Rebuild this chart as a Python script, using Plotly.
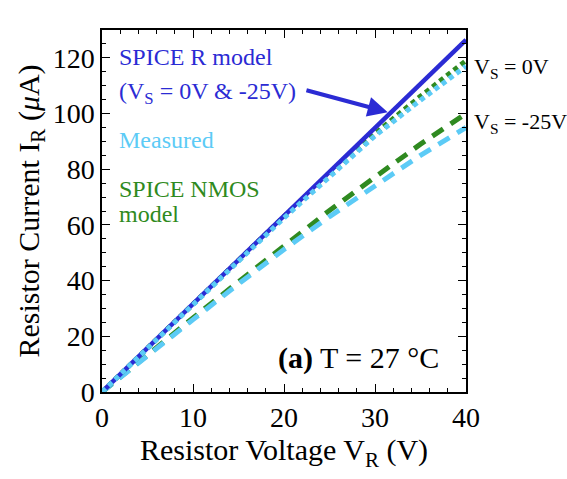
import plotly.graph_objects as go

# data
v_r_model = [0, 40]
i_r_model = [0, 126.5]

v_pts = [0, 5, 10, 15, 20, 25, 30, 35, 40]
i_meas_0 = [0, 15.8, 31.5, 47.0, 62.5, 77.5, 92.0, 104.8, 117.0]
i_nmos_0 = [0, 15.8, 31.6, 47.2, 63.0, 78.2, 92.8, 106.2, 119.0]
i_meas_25 = [0, 13.2, 26.0, 38.8, 51.2, 63.0, 74.2, 85.0, 95.0]
i_nmos_25 = [0, 13.4, 26.6, 39.6, 52.6, 65.2, 77.2, 89.0, 100.0]

x_ticks = [0, 10, 20, 30, 40]
y_ticks = [0, 20, 40, 60, 80, 100, 120]

BLUE = "#2b2bd4"
LBLUE = "#5ccbf6"
GREEN = "#2f8a20"
FONT = "Liberation Serif"

fig = go.Figure()
fig.add_trace(go.Scatter(x=v_pts, y=i_nmos_25, mode="lines",
                         line=dict(color=GREEN, width=5, dash="13px,9px")))
fig.add_trace(go.Scatter(x=v_pts, y=i_meas_25, mode="lines",
                         line=dict(color=LBLUE, width=5, dash="13px,9px")))
fig.add_trace(go.Scatter(x=v_pts, y=i_nmos_0, mode="lines",
                         line=dict(color=GREEN, width=5, dash="5px,4px")))
fig.add_trace(go.Scatter(x=v_r_model, y=i_r_model, mode="lines",
                         line=dict(color=BLUE, width=4.5)))
fig.add_trace(go.Scatter(x=v_pts, y=i_meas_0, mode="lines",
                         line=dict(color=LBLUE, width=5, dash="5px,4px")))

axis_common = dict(showline=True, linecolor="black", linewidth=1.5, mirror="allticks",
                   ticks="inside", ticklen=8, tickwidth=1.2, tickcolor="black",
                   showgrid=False, zeroline=False,
                   tickfont=dict(family=FONT, size=28, color="black"))

fig.update_layout(
    width=567, height=479,
    margin=dict(l=102, r=101, t=30, b=87),
    paper_bgcolor="white", plot_bgcolor="white",
    showlegend=False,
    font=dict(family=FONT, color="black"),
    xaxis=dict(range=[0, 40], tickvals=x_ticks,
               minor=dict(dtick=2, ticks="inside", ticklen=4, tickcolor="black", tickwidth=1),
               title=dict(text="Resistor Voltage V<sub>R</sub> (V)",
                          font=dict(family=FONT, size=30), standoff=6),
               **axis_common),
    yaxis=dict(range=[0, 130], tickvals=y_ticks,
               minor=dict(dtick=5, ticks="inside", ticklen=4, tickcolor="black", tickwidth=1),
               title=dict(text="Resistor Current I<sub>R</sub> (<i>μ</i>A)",
                          font=dict(family=FONT, size=30), standoff=4),
               **axis_common),
)

ann = [
    dict(x=1.6, y=120.3, text="SPICE R model", color=BLUE),
    dict(x=1.6, y=107.5, text="(V<sub>S</sub> = 0V & -25V)", color=BLUE),
    dict(x=1.6, y=90.5, text="Measured", color=LBLUE),
    dict(x=1.6, y=73, text="SPICE NMOS", color=GREEN),
    dict(x=1.6, y=64, text="model", color=GREEN),
]
for a in ann:
    fig.add_annotation(x=a["x"], y=a["y"], xref="x", yref="y", text=a["text"],
                       showarrow=False, xanchor="left", yanchor="middle",
                       font=dict(family=FONT, size=24, color=a["color"]))

fig.add_annotation(x=31.4, y=100.5, ax=22.3, ay=108.5, xref="x", yref="y",
                   axref="x", ayref="y", text="", showarrow=True,
                   arrowhead=2, arrowsize=1.0, arrowwidth=4, arrowcolor=BLUE)

fig.add_annotation(x=40, y=116.5, xref="x", yref="y", text="V<sub>S</sub> = 0V",
                   showarrow=False, xanchor="left", yanchor="middle", xshift=6,
                   font=dict(family=FONT, size=22, color="black"))
fig.add_annotation(x=40, y=96.5, xref="x", yref="y", text="V<sub>S</sub> = -25V",
                   showarrow=False, xanchor="left", yanchor="middle", xshift=6,
                   font=dict(family=FONT, size=22, color="black"))

fig.add_annotation(x=37.2, y=12.3, xref="x", yref="y", text="<b>(a)</b> T = 27 °C",
                   showarrow=False, xanchor="right", yanchor="middle",
                   font=dict(family=FONT, size=30, color="black"))

fig.write_html("out.html")
